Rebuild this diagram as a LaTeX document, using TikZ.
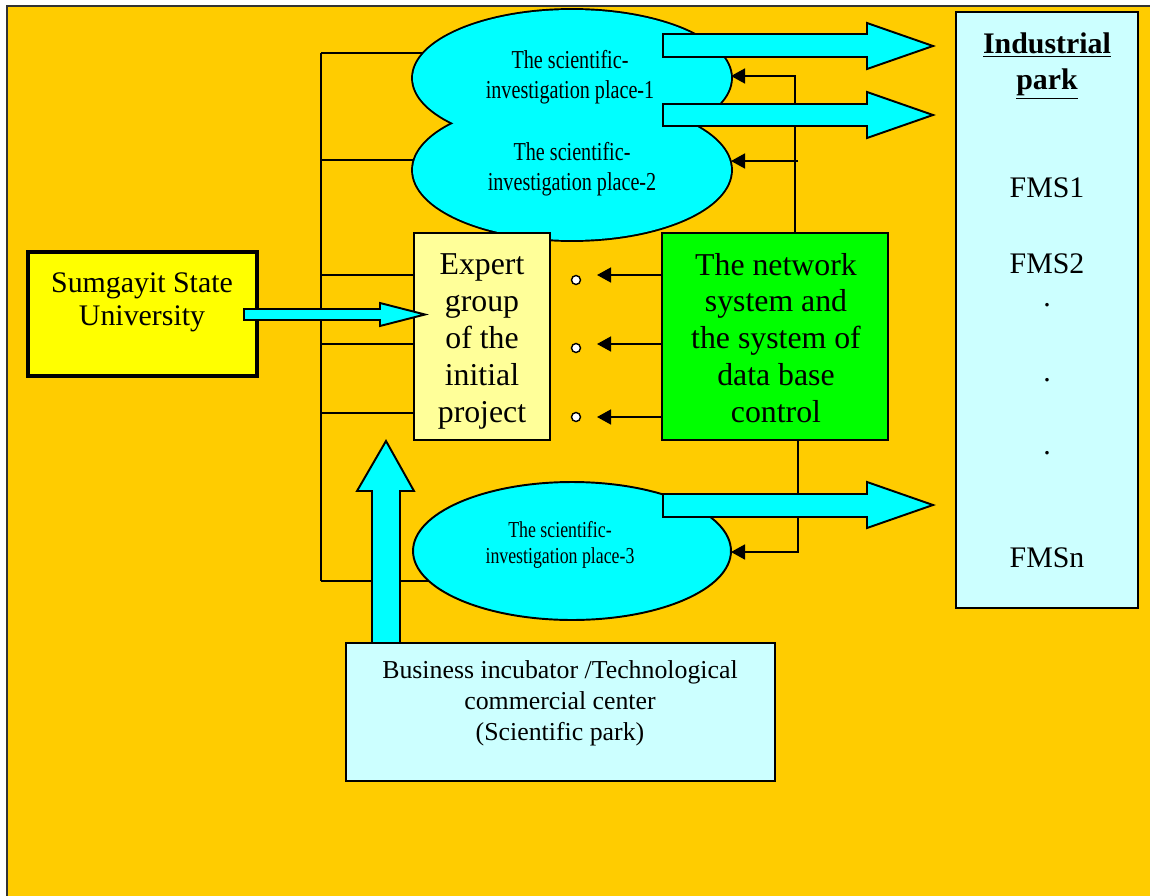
\documentclass[tikz,border=0pt]{standalone}
\usepackage{fontspec}
\setmainfont{Liberation Serif}
\newfontfamily\condfont[FakeStretch=0.78]{Liberation Serif}
\usetikzlibrary{shapes.geometric,arrows.meta,backgrounds}
\pgfdeclarelayer{bottomlayer}
\pgfsetlayers{bottomlayer,background,main}
\definecolor{bgorange}{HTML}{FFCC00}
\definecolor{aqua}{HTML}{00FFFF}
\definecolor{lightaqua}{HTML}{CCFFFF}
\definecolor{paleyellow}{HTML}{FFFF99}
\definecolor{brightgreen}{HTML}{00FF00}
\definecolor{brightyellow}{HTML}{FFFF00}
\definecolor{framegray}{HTML}{333333}
\begin{document}
\begin{tikzpicture}[x=0.02cm,y=-0.02cm,
  thinline/.style={line width=1.1pt},
  box/.style={draw, line width=1.1pt, inner sep=0pt, outer sep=0pt},
  ell/.style={ellipse, inner sep=0pt, outer sep=0pt},
  tipline/.style={line width=1.1pt, -{Triangle[length=8pt,width=8.5pt]}},
  fat/.style={draw, line width=1.1pt, fill=aqua, line join=miter},
  txt/.style={inner sep=0pt, outer sep=0pt, align=center},
  bigfont/.style={font=\fontsize{18.1}{21}\selectfont},
  ellfont/.style={font=\condfont\fontsize{14.7}{17}\selectfont},
  fmsfont/.style={font=\fontsize{17}{19}\selectfont}]
\useasboundingbox (0,0) rectangle (1150,896);

% ellipses 1 and 2 (joined cloud)
\node[ell, draw, line width=2.2pt, minimum width=6.36cm, minimum height=2.72cm] (e1) at (572,78) {};
\node[ell, draw, line width=2.2pt, minimum width=6.36cm, minimum height=2.8cm] (e2) at (572,170) {};
\node[ell, fill=aqua, minimum width=6.36cm, minimum height=2.72cm] (e1f) at (572,78) {};
\node[ell, fill=aqua, minimum width=6.36cm, minimum height=2.8cm] (e2f) at (572,170) {};
\node[txt, ellfont] (e1t) at (570,77) {The scientific-\\investigation place-1};
\node[txt, ellfont] (e2t) at (572,169) {The scientific-\\investigation place-2};

% ellipse 3
\node[ell, draw, line width=1.1pt, fill=aqua, minimum width=6.36cm, minimum height=2.76cm] (e3) at (572,551) {};
\node[txt, font=\condfont\fontsize{13}{14.7}\selectfont] (e3t) at (560,545) {The scientific-\\investigation place-3};

% boxes
\node[box, line width=2.3pt, fill=brightyellow, minimum width=4.58cm, minimum height=2.48cm] (ssu) at (142.5,314) {};
\node[txt, font=\fontsize{17}{18.7}\selectfont] (ssut) at (142,302) {Sumgayit State\\University};

\node[box, fill=paleyellow, minimum width=2.72cm, minimum height=4.14cm] (exp) at (482,336.5) {};
\node[txt, bigfont] (expt) at (482,341.5) {Expert\\group\\of the\\initial\\project};
\node[box, fill=brightgreen, minimum width=4.52cm, minimum height=4.14cm] (net) at (775,336.5) {};
\node[txt, bigfont] (nett) at (776,338) {The network\\system and\\the system of\\data base\\control};

\node[box, fill=lightaqua, minimum width=3.64cm, minimum height=11.92cm] (ind) at (1047,310) {};
\node[txt, font=\bfseries\fontsize{17}{20.5}\selectfont] (indt) at (1047,66) {\underline{Industrial}\\\underline{park}};
\node[txt, fmsfont] (f1) at (1047,188) {FMS1};
\node[txt, fmsfont] (f2) at (1047,264) {FMS2};
\node[txt, fmsfont] (d1) at (1047,305) {.};
\node[txt, fmsfont] (d2) at (1047,380) {.};
\node[txt, fmsfont] (d3) at (1047,453) {.};
\node[txt, fmsfont] (fn) at (1047,558) {FMSn};

% up arrow (business -> expert), drawn beneath the business box
\draw[fat] (372,643) -- (372,491) -- (357,491) -- (386,441) -- (414,491) -- (400,491) -- (400,643) -- cycle;

\node[box, fill=lightaqua, minimum width=8.58cm, minimum height=2.76cm] (biz) at (560.5,712) {};
\node[txt, font=\fontsize{14.7}{17.6}\selectfont] (bizt) at (560,703) {Business incubator /Technological\\commercial center\\(Scientific park)};

% small circles
\node[circle, draw, fill=white, line width=0.8pt, minimum size=0.18cm, inner sep=0pt] (c1) at (576,280) {};
\node[circle, draw, fill=white, line width=0.8pt, minimum size=0.18cm, inner sep=0pt] (c2) at (576,348) {};
\node[circle, draw, fill=white, line width=0.8pt, minimum size=0.18cm, inner sep=0pt] (c3) at (576,417) {};

% thin connectors
\coordinate (a1) at (597,275);
\coordinate (a2) at (597,344);
\coordinate (a3) at (597,417);
\draw[tipline] (a1 -| net.west) -- (a1);
\draw[tipline] (a2 -| net.west) -- (a2);
\draw[tipline] (a3 -| net.west) -- (a3);

\coordinate (t1) at (795,76);
\coordinate (t2) at (798,161);
\coordinate (t3) at (798,552);
\draw[tipline] (t1 |- net.north) -- (t1) -- (t1 -| e1.east);
\draw[tipline] (t2) -- (t2 -| e2.east);
\draw[tipline] (t3 |- net.south) -- (t3) -- (t3 -| e3.east);

% fat arrows to industrial park
\draw[fat] (663,34) -- (867,34) -- (867,23) -- (933,46) -- (867,69) -- (867,57) -- (663,57) -- cycle;
\draw[fat] (663,104) -- (867,104) -- (867,92) -- (933,115) -- (867,138) -- (867,126) -- (663,126) -- cycle;
\draw[fat] (663,494) -- (867,494) -- (867,482) -- (933,505) -- (867,528) -- (867,517) -- (663,517) -- cycle;

% Sumgayit -> expert arrow
\draw[fat] (244,309) -- (380,309) -- (380,303) -- (425,314.5) -- (380,326) -- (380,320) -- (244,320) -- cycle;

% left bus lines
\begin{pgfonlayer}{background}
\coordinate (bt) at (321,53);
\coordinate (bb) at (321,581);
\coordinate (h2) at (321,160);
\coordinate (h3) at (321,275);
\coordinate (h4) at (321,344);
\coordinate (h5) at (321,413);
\draw[thinline] (bt) -- (bb);
\draw[thinline] (bt) -- (bt -| e1.center);
\draw[thinline] (h2) -- (h2 -| e2.center);
\draw[thinline] (h3) -- (h3 -| exp.west);
\draw[thinline] (h4) -- (h4 -| exp.west);
\draw[thinline] (h5) -- (h5 -| exp.west);
\draw[thinline] (bb) -- (bb -| e3.center);
\end{pgfonlayer}

% page background
\begin{pgfonlayer}{bottomlayer}
\fill[white] (0,0) rectangle (1150,896);
\fill[bgorange] (7,6) rectangle (1150,896);
\draw[framegray, line width=1.2pt] (7,896) -- (7,6) -- (1150,6);
\end{pgfonlayer}
\end{tikzpicture}
\end{document}
